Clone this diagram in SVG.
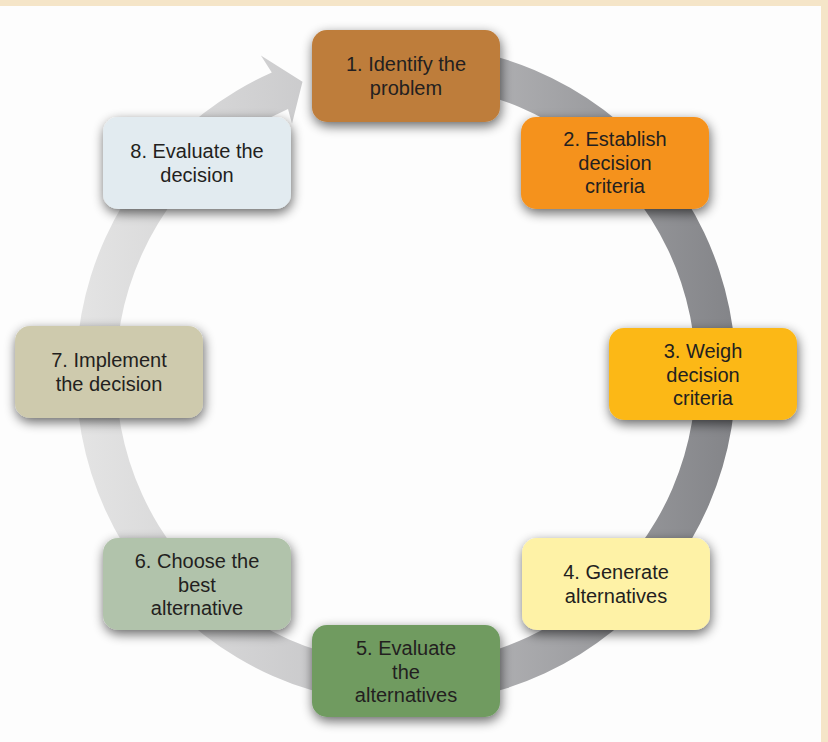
<svg xmlns="http://www.w3.org/2000/svg" width="828" height="742" viewBox="0 0 828 742">
<defs>
<style>
.box{stroke:none;filter:url(#sh)}
.lbl{font-family:"Liberation Sans",Arial,sans-serif;font-size:20px;fill:#231F20;text-anchor:middle}
</style>
<filter id="sh" x="-25%" y="-30%" width="150%" height="170%">
<feGaussianBlur in="SourceAlpha" stdDeviation="6"/>
<feOffset dx="1" dy="4" result="b"/>
<feComponentTransfer><feFuncA type="linear" slope="0.6"/></feComponentTransfer>
<feMerge><feMergeNode/><feMergeNode in="SourceGraphic"/></feMerge>
</filter>
<linearGradient id="ringg" gradientUnits="userSpaceOnUse" x1="76" y1="0" x2="736" y2="0">
<stop offset="0" stop-color="#e4e4e4"/>
<stop offset="0.45" stop-color="#c4c4c6"/>
<stop offset="1" stop-color="#838488"/>
</linearGradient>
</defs>
<rect x="0" y="0" width="828" height="742" fill="#F5E5C8"/>
<rect x="0" y="6" width="821" height="736" fill="#FDFDFD"/>
<g id="connectors">
<path d="M417.5,44.2 A330,330 0 1 1 271.8,72.5 L260.9,55.5 L302.5,81.8 L292.0,123.8 L288.0,109.1 A290,290 0 1 0 416.1,84.2 Z" fill="url(#ringg)"/>
</g>
<g id="node1"><rect class="box" x="312" y="30" width="188" height="92" rx="15" fill="#BE7D3A"/><text class="lbl" x="406" y="71">1. Identify the</text><text class="lbl" x="406" y="94.5">problem</text></g>
<g id="node2"><rect class="box" x="521" y="117" width="188" height="92" rx="15" fill="#F5921E"/><text class="lbl" x="615" y="146">2. Establish</text><text class="lbl" x="615" y="169.5">decision</text><text class="lbl" x="615" y="193">criteria</text></g>
<g id="node3"><rect class="box" x="609" y="328" width="188" height="92" rx="15" fill="#FCB817"/><text class="lbl" x="703" y="358">3. Weigh</text><text class="lbl" x="703" y="381.5">decision</text><text class="lbl" x="703" y="405">criteria</text></g>
<g id="node4"><rect class="box" x="522" y="538" width="188" height="92" rx="15" fill="#FEF2A6"/><text class="lbl" x="616" y="579">4. Generate</text><text class="lbl" x="616" y="602.5">alternatives</text></g>
<g id="node5"><rect class="box" x="312" y="625" width="188" height="92" rx="15" fill="#6F9B61"/><text class="lbl" x="406" y="655">5. Evaluate</text><text class="lbl" x="406" y="678.5">the</text><text class="lbl" x="406" y="702">alternatives</text></g>
<g id="node6"><rect class="box" x="103" y="538" width="188" height="92" rx="15" fill="#B1C3AB"/><text class="lbl" x="197" y="568">6. Choose the</text><text class="lbl" x="197" y="591.5">best</text><text class="lbl" x="197" y="615">alternative</text></g>
<g id="node7"><rect class="box" x="15" y="326" width="188" height="92" rx="15" fill="#CECAAD"/><text class="lbl" x="109" y="367">7. Implement</text><text class="lbl" x="109" y="390.5">the decision</text></g>
<g id="node8"><rect class="box" x="103" y="117" width="188" height="92" rx="15" fill="#E2EBF0"/><text class="lbl" x="197" y="158">8. Evaluate the</text><text class="lbl" x="197" y="181.5">decision</text></g>
</svg>
